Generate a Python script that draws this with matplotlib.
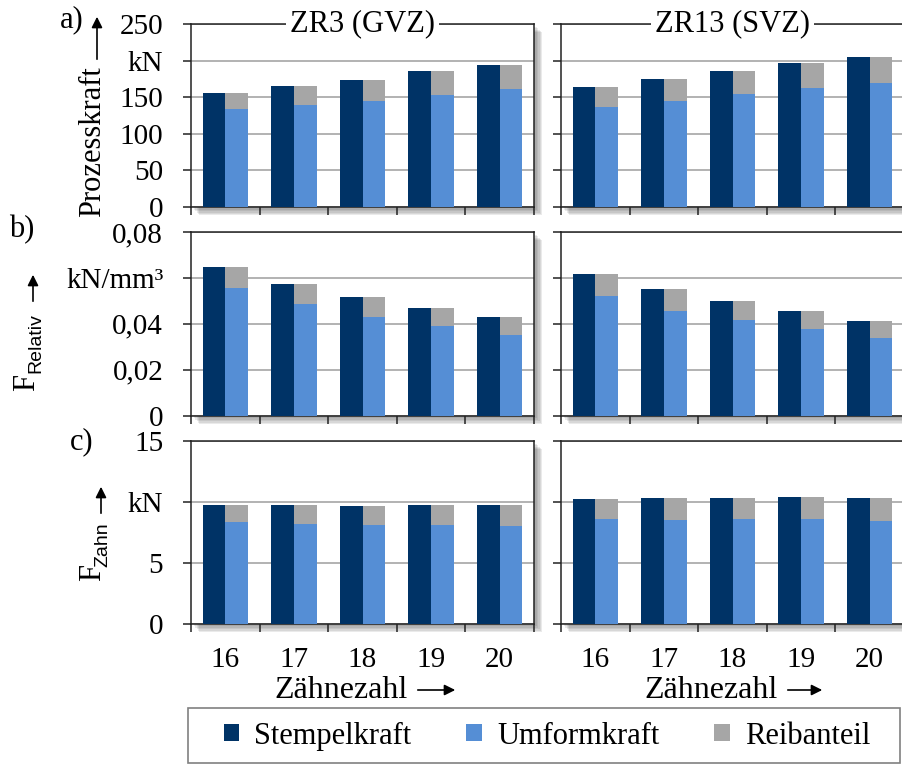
import matplotlib
matplotlib.use('Agg')
import matplotlib.pyplot as plt
import matplotlib.patheffects as pe
from matplotlib.patches import Patch, FancyArrowPatch, Rectangle

plt.rcParams['font.family'] = ['Liberation Serif', 'DejaVu Serif']

# --- data ---
zaehnezahl = ['16', '17', '18', '19', '20']
titles = ['ZR3 (GVZ)', 'ZR13 (SVZ)']

# a) Prozesskraft [kN]
a_stempel_gvz = [155.7, 165.3, 173.5, 185.4, 194.0]
a_umform_gvz = [133.5, 139.3, 145.2, 153.0, 160.8]
a_reib_gvz = [22.2, 26.0, 28.3, 32.4, 33.2]
a_stempel_svz = [163.5, 174.4, 185.4, 197.2, 205.3]
a_umform_svz = [137.0, 145.2, 154.4, 163.0, 169.8]
a_reib_svz = [26.5, 29.2, 31.0, 34.2, 35.5]

# b) F_Relativ [kN/mm^3]
b_stempel_gvz = [0.0648, 0.0574, 0.0515, 0.0470, 0.0428]
b_umform_gvz = [0.0557, 0.0487, 0.0430, 0.0391, 0.0352]
b_reib_gvz = [0.0091, 0.0087, 0.0085, 0.0079, 0.0076]
b_stempel_svz = [0.0619, 0.0552, 0.0500, 0.0457, 0.0412]
b_umform_svz = [0.0522, 0.0457, 0.0417, 0.0378, 0.0339]
b_reib_svz = [0.0097, 0.0095, 0.0083, 0.0079, 0.0073]

# c) F_Zahn [kN]
c_stempel_gvz = [9.73, 9.73, 9.67, 9.73, 9.73]
c_umform_gvz = [8.31, 8.20, 8.09, 8.09, 8.03]
c_reib_gvz = [1.42, 1.53, 1.58, 1.64, 1.70]
c_stempel_svz = [10.22, 10.30, 10.30, 10.39, 10.28]
c_umform_svz = [8.61, 8.52, 8.61, 8.61, 8.44]
c_reib_svz = [1.61, 1.78, 1.69, 1.78, 1.84]

a_ticks = [0, 50, 100, 150, 200, 250]
a_ticklabels = ['0', '50', '100', '150', 'kN', '250']
b_ticks = [0, 0.02, 0.04, 0.06, 0.08]
b_ticklabels = ['0', '0,02', '0,04', 'kN/mm³', '0,08']
c_ticks = [0, 5, 10, 15]
c_ticklabels = ['0', '5', 'kN', '15']

labels = ['Stempelkraft', 'Umformkraft', 'Reibanteil']
C_DARK = '#003366'
C_LIGHT = '#558ED5'
C_GRAY = '#A6A6A6'

W, H = 902, 764


def fx(x):
    return x / W


def fy(y):
    return 1 - y / H


fig = plt.figure(figsize=(W / 100, H / 100), dpi=100)

rows = [
    (24, 207, a_ticks, a_ticklabels,
     [(a_stempel_gvz, a_umform_gvz, a_reib_gvz), (a_stempel_svz, a_umform_svz, a_reib_svz)]),
    (232, 415.7, b_ticks, b_ticklabels,
     [(b_stempel_gvz, b_umform_gvz, b_reib_gvz), (b_stempel_svz, b_umform_svz, b_reib_svz)]),
    (441, 623.7, c_ticks, c_ticklabels,
     [(c_stempel_gvz, c_umform_gvz, c_reib_gvz), (c_stempel_svz, c_umform_svz, c_reib_svz)]),
]
cols = [(191, 534), (561, 904)]

x = list(range(len(zaehnezahl)))
bw = 0.33
# soft drop shadow: several faint offset copies
shadow = [pe.SimplePatchShadow(offset=(k, -k), shadow_rgbFace='0.2', alpha=0.1)
          for k in (6, 5, 4, 3, 2)] + [pe.Normal()]

for r, (top, bot, ticks, ticklabels, series) in enumerate(rows):
    for c, (left, right) in enumerate(cols):
        ax = fig.add_axes([fx(left), fy(bot), fx(right - left), (bot - top) / H])
        ax.patch.set_path_effects(shadow)
        stempel, umform, reib = series[c]
        ax.bar([i - bw / 2 for i in x], stempel, bw, color=C_DARK, zorder=3)
        ax.bar([i + bw / 2 for i in x], umform, bw, color=C_LIGHT, zorder=3)
        ax.bar([i + bw / 2 for i in x], reib, bw, bottom=umform, color=C_GRAY, zorder=3)

        ax.set_xlim(-0.5, len(x) - 0.5)
        ax.set_ylim(ticks[0], ticks[-1])
        ax.set_yticks(ticks)
        ax.yaxis.grid(True, color='#A6A6A6', linewidth=1.2, zorder=0)
        ax.set_axisbelow(True)

        ax.set_xticks([i - 0.5 for i in range(len(x) + 1)])
        ax.set_xticklabels([])
        ax.tick_params(axis='both', which='major', direction='out', length=6,
                       width=1.1, color='#222222')
        if r == 2:
            ax.set_xticks(x, minor=True)
            ax.set_xticklabels(zaehnezahl, minor=True)
            ax.tick_params(axis='x', which='minor', length=0, pad=17, labelsize=21)

        if c == 0:
            ax.set_yticklabels(ticklabels)
            ax.tick_params(axis='y', labelsize=21, pad=14)
        else:
            ax.set_yticklabels([])

        for s in ax.spines.values():
            s.set_linewidth(1.1)
            s.set_color('#222222')

        if r == 0:
            ax.text(0.5, 1.0, titles[c], transform=ax.transAxes, ha='center', va='center',
                    fontsize=22, zorder=10,
                    bbox=dict(facecolor='white', edgecolor='none', pad=3))

# panel letters
fig.text(fx(72), fy(20), 'a)', fontsize=22, ha='center', va='center')
fig.text(fx(22), fy(230), 'b)', fontsize=22, ha='center', va='center')
fig.text(fx(82), fy(442), 'c)', fontsize=22, ha='center', va='center')

# y labels
fig.text(fx(93), fy(217), 'Prozesskraft', fontsize=22, rotation=90, ha='center', va='bottom')
fig.text(fx(27), fy(391), 'F', fontsize=22, rotation=90, ha='center', va='bottom')
fig.text(fx(36), fy(373), 'Relativ', fontsize=14, rotation=90, ha='center', va='bottom',
         family=['Liberation Sans', 'DejaVu Sans'])
fig.text(fx(93), fy(581), 'F', fontsize=22, rotation=90, ha='center', va='bottom')
fig.text(fx(103), fy(567), 'Zahn', fontsize=14, rotation=90, ha='center', va='bottom',
         family=['Liberation Sans', 'DejaVu Sans'])


def arrow(x0, y0, x1, y1):
    a = FancyArrowPatch((fx(x0), fy(y0)), (fx(x1), fy(y1)), transform=fig.transFigure,
                        arrowstyle='-|>', mutation_scale=16, linewidth=1.2, color='black')
    fig.add_artist(a)


arrow(97, 62, 97, 14)
arrow(33, 304, 33, 272)
arrow(101, 516, 101, 484)

# x labels
fig.text(fx(408), fy(690), 'Zähnezahl', fontsize=23, ha='right', va='center')
arrow(415, 690, 458, 690)
fig.text(fx(778), fy(690), 'Zähnezahl', fontsize=23, ha='right', va='center')
arrow(785, 690, 825, 690)

# legend: frameless entries inside a drawn box
fig.add_artist(Rectangle((fx(188), fy(763)), fx(900) - fx(188), 55 / H,
                         transform=fig.transFigure, facecolor='white',
                         edgecolor='#808080', linewidth=1.2))
handles = [Patch(facecolor=C_DARK), Patch(facecolor=C_LIGHT), Patch(facecolor=C_GRAY)]
fig.legend(handles, labels, loc='center', ncol=3, fontsize=22,
           bbox_to_anchor=(fx(547), fy(736)),
           frameon=False, handlelength=0.5, handleheight=0.5, handletextpad=0.5,
           columnspacing=1.8, borderpad=0)

fig.savefig('out.png', dpi=100)
